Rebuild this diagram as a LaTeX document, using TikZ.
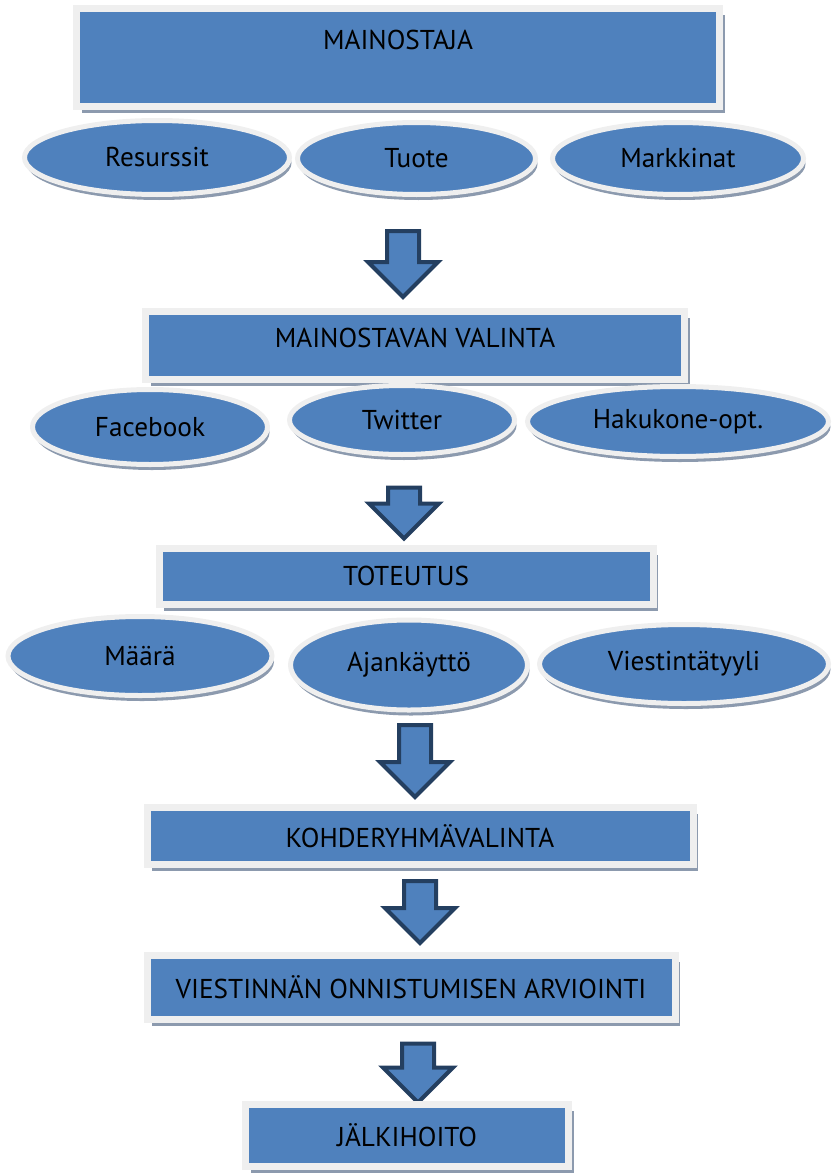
\documentclass[tikz,border=0pt]{standalone}
\usepackage{fontspec}
\setmainfont{PT Sans}
\usepackage{xcolor}
\usepackage{tikz}
\usetikzlibrary{shapes.geometric, shapes.arrows, shadows, positioning}
\definecolor{boxblue}{HTML}{4F81BD}
\definecolor{rimgray}{HTML}{EFEFEF}
\definecolor{shadowgray}{HTML}{8C9AAE}
\definecolor{arrowdark}{HTML}{243F60}

\begin{document}
\begin{tikzpicture}[on grid, phase/.style={draw=rimgray, fill=boxblue, rectangle, line width=0.14cm, font=\fontsize{15.5}{18}\selectfont, drop shadow={shadow xshift=0.1cm, shadow yshift=-0.13cm, fill=shadowgray, opacity=1}},
			factor/.style={draw=rimgray, fill=boxblue, ellipse, line width=0.1cm, inner sep=0pt, font=\fontsize{15.5}{18}\selectfont, drop shadow={shadow xshift=0.04cm, shadow yshift=-0.11cm, fill=shadowgray, opacity=1}},
			flowarrow/.style={single arrow, draw=arrowdark, fill=boxblue, line width=0.08cm, inner xsep=0pt, inner ysep=0.28cm, single arrow head extend=0.38cm, single arrow tip angle=90, rotate=-90}
			]
			\useasboundingbox (0,0) rectangle (16.62,-23.5);
			\node [phase, minimum width=12.86cm, minimum height=1.96cm, text depth=0.7cm](mainostaja) at (7.96,-1.15) {MAINOSTAJA};
			
			\node [factor, minimum width=4.76cm, minimum height=1.44cm](tuote) [below=2.02cm of mainostaja, xshift=0.37cm] {Tuote};
			\node [factor, minimum width=5.3cm, minimum height=1.48cm](resurssit) [left=5.19cm of tuote, yshift=0.02cm] {Resurssit};
			\node [factor, minimum width=5.02cm, minimum height=1.44cm](markkinat) [right=5.23cm of tuote] {Markkinat};
			
			\node [flowarrow, minimum height=1.32cm](ar1) [below right=3.97cm and 0.1cm of mainostaja] {};
			
			\node [phase, minimum width=10.78cm, minimum height=1.36cm, text depth=0.3cm](valinta) [below=1.78cm of ar1, xshift=0.24cm] {MAINOSTAVAN VALINTA};
			
			\node [factor, minimum width=4.5cm, minimum height=1.38cm](twitter) [below=1.5cm of valinta, xshift=-0.26cm] {Twitter};
			\node [factor, minimum width=4.7cm, minimum height=1.5cm](facebook) [left=5.04cm of twitter, yshift=-0.14cm] {Facebook};
			\node [factor, minimum width=6.02cm, minimum height=1.4cm](hakukone) [right=5.52cm of twitter, yshift=-0.03cm] {Hakukone-opt.};
			
			\node [flowarrow, minimum height=1.02cm](ar2) [below left=3.2cm and 0.22cm of valinta] {};
			
			\node [phase, minimum width=9.88cm, minimum height=1.12cm](toteutus) [below=1.42cm of ar2, xshift=0.04cm] {TOTEUTUS};
			
			\node [factor, minimum width=4.74cm, minimum height=1.8cm](ajankaytto) [below=1.78cm of toteutus, xshift=0.06cm] {Ajankäyttö};
			\node [factor, minimum width=5.28cm, minimum height=1.58cm](maara) [left=5.38cm of ajankaytto, yshift=0.18cm] {Määrä};
			\node [factor, minimum width=5.78cm, minimum height=1.58cm](viestinta) [right=5.5cm of ajankaytto, yshift=0.02cm] {Viestintätyyli};
			
			\node [flowarrow, minimum height=1.44cm](ar3) [below right=3.54cm and 0.18cm of toteutus] {};
			
			\node [phase, minimum width=10.92cm, minimum height=1.14cm](kohde) [below=1.66cm of ar3, xshift=0.1cm] {KOHDERYHMÄVALINTA};
			
			\node [flowarrow, minimum height=1.24cm](ar4) [below=1.36cm of kohde] {};
			
			\node [phase, minimum width=10.56cm, minimum height=1.28cm](arviointi) [below=1.66cm of ar4, xshift=-0.18cm] {VIESTINNÄN ONNISTUMISEN ARVIOINTI};
			
			\node [flowarrow, minimum height=1.18cm](ar5) [below right=1.56cm and 0.14cm of arviointi] {};
			
			\node [phase, minimum width=6.46cm, minimum height=1.24cm](jalkihoito) [below=1.4cm of ar5, xshift=-0.22cm] {JÄLKIHOITO};
		\end{tikzpicture}
\end{document}
